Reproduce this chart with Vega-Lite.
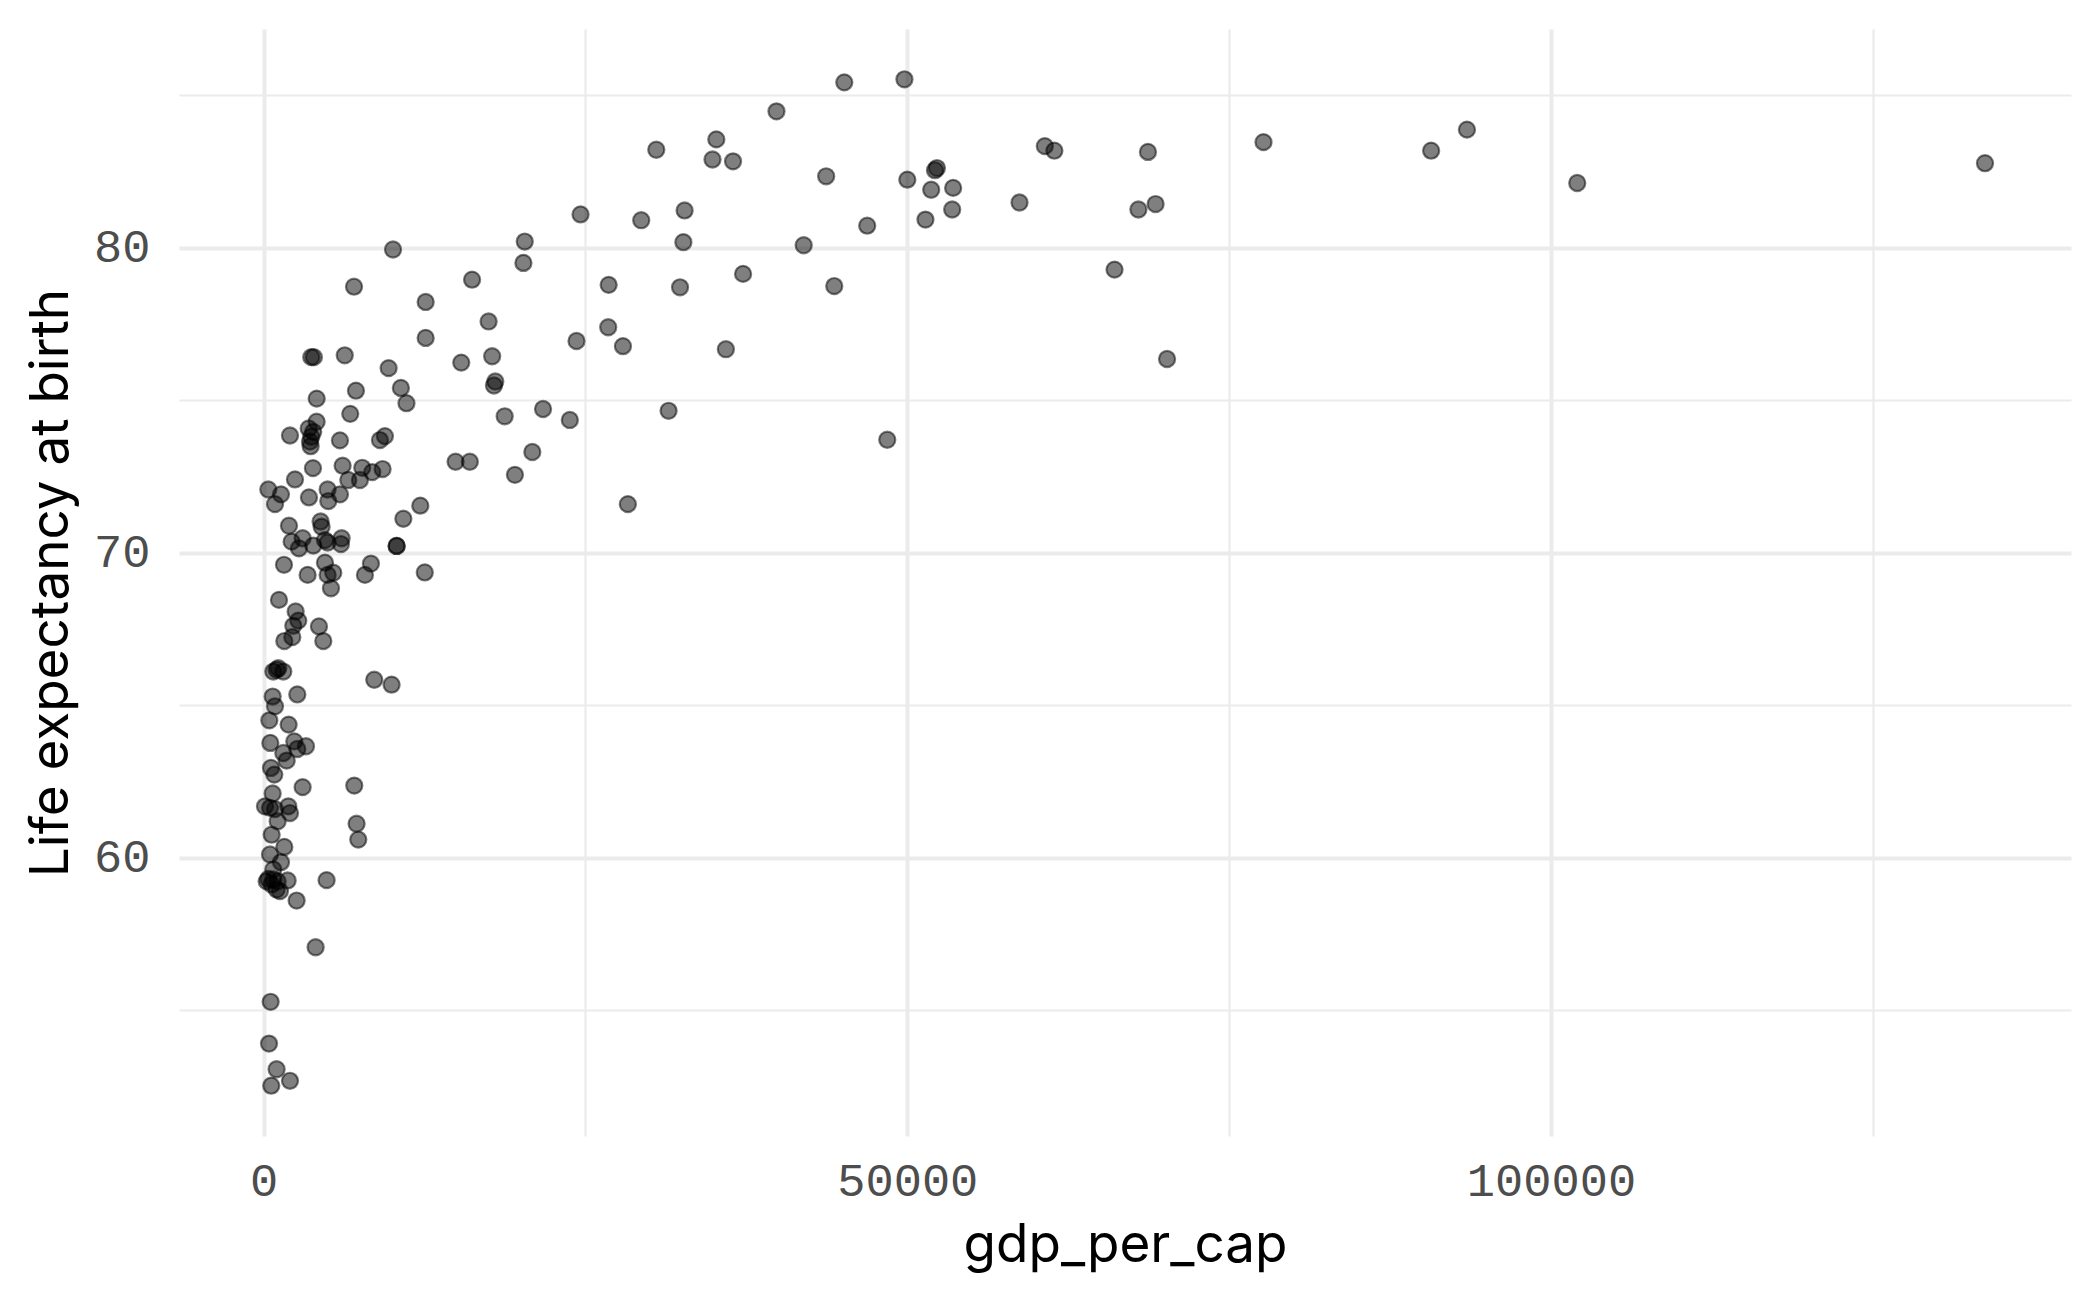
{
  "$schema": "https://vega.github.io/schema/vega-lite/v6.json",
  "width": 1892,
  "height": 1107,
  "autosize": {"type": "none"},
  "padding": {"left": 179, "top": 29, "right": 29, "bottom": 161},
  "background": "white",
  "config": {
    "view": {"stroke": null},
    "axis": {
      "domain": false,
      "ticks": false,
      "gridColor": "#EBEBEB",
      "labelFont": "Liberation Mono",
      "labelFontSize": 47,
      "labelColor": "#4D4D4D",
      "titleFont": "Inter",
      "titleFontSize": 53,
      "titleFontWeight": "normal",
      "titleColor": "#000000"
    }
  },
  "data": {
    "values": [
      {"gdp_per_cap": 133715, "life_exp": 82.77},
      {"gdp_per_cap": 102040, "life_exp": 82.12},
      {"gdp_per_cap": 93472, "life_exp": 83.87},
      {"gdp_per_cap": 90690, "life_exp": 83.18},
      {"gdp_per_cap": 45104, "life_exp": 85.42},
      {"gdp_per_cap": 49777, "life_exp": 85.52},
      {"gdp_per_cap": 39837, "life_exp": 84.47},
      {"gdp_per_cap": 35164, "life_exp": 83.55},
      {"gdp_per_cap": 30500, "life_exp": 83.21},
      {"gdp_per_cap": 34867, "life_exp": 82.89},
      {"gdp_per_cap": 36462, "life_exp": 82.83},
      {"gdp_per_cap": 43695, "life_exp": 82.34},
      {"gdp_per_cap": 50000, "life_exp": 82.23},
      {"gdp_per_cap": 52300, "life_exp": 82.61},
      {"gdp_per_cap": 52150, "life_exp": 82.54},
      {"gdp_per_cap": 51855, "life_exp": 81.9},
      {"gdp_per_cap": 53560, "life_exp": 81.96},
      {"gdp_per_cap": 53486, "life_exp": 81.25},
      {"gdp_per_cap": 51410, "life_exp": 80.92},
      {"gdp_per_cap": 58716, "life_exp": 81.48},
      {"gdp_per_cap": 60682, "life_exp": 83.33},
      {"gdp_per_cap": 61424, "life_exp": 83.18},
      {"gdp_per_cap": 68693, "life_exp": 83.14},
      {"gdp_per_cap": 67951, "life_exp": 81.25},
      {"gdp_per_cap": 69287, "life_exp": 81.43},
      {"gdp_per_cap": 77669, "life_exp": 83.46},
      {"gdp_per_cap": 66097, "life_exp": 79.28},
      {"gdp_per_cap": 70177, "life_exp": 76.35},
      {"gdp_per_cap": 32700, "life_exp": 81.22},
      {"gdp_per_cap": 32605, "life_exp": 80.18},
      {"gdp_per_cap": 46884, "life_exp": 80.72},
      {"gdp_per_cap": 41951, "life_exp": 80.08},
      {"gdp_per_cap": 32345, "life_exp": 78.7},
      {"gdp_per_cap": 37241, "life_exp": 79.14},
      {"gdp_per_cap": 44325, "life_exp": 78.74},
      {"gdp_per_cap": 35906, "life_exp": 76.67},
      {"gdp_per_cap": 31455, "life_exp": 74.65},
      {"gdp_per_cap": 48442, "life_exp": 73.7},
      {"gdp_per_cap": 24616, "life_exp": 81.09},
      {"gdp_per_cap": 29331, "life_exp": 80.9},
      {"gdp_per_cap": 28291, "life_exp": 71.59},
      {"gdp_per_cap": 20282, "life_exp": 80.2},
      {"gdp_per_cap": 20178, "life_exp": 79.5},
      {"gdp_per_cap": 10050, "life_exp": 79.94},
      {"gdp_per_cap": 7020, "life_exp": 78.72},
      {"gdp_per_cap": 16191, "life_exp": 78.95},
      {"gdp_per_cap": 26800, "life_exp": 78.78},
      {"gdp_per_cap": 12585, "life_exp": 78.22},
      {"gdp_per_cap": 17474, "life_exp": 77.58},
      {"gdp_per_cap": 26765, "life_exp": 77.39},
      {"gdp_per_cap": 12585, "life_exp": 77.04},
      {"gdp_per_cap": 24304, "life_exp": 76.94},
      {"gdp_per_cap": 27910, "life_exp": 76.77},
      {"gdp_per_cap": 17751, "life_exp": 76.44},
      {"gdp_per_cap": 15350, "life_exp": 76.23},
      {"gdp_per_cap": 3700, "life_exp": 76.41},
      {"gdp_per_cap": 3900, "life_exp": 76.41},
      {"gdp_per_cap": 6300, "life_exp": 76.47},
      {"gdp_per_cap": 9708, "life_exp": 76.05},
      {"gdp_per_cap": 7170, "life_exp": 75.31},
      {"gdp_per_cap": 10660, "life_exp": 75.4},
      {"gdp_per_cap": 4120, "life_exp": 75.05},
      {"gdp_per_cap": 17994, "life_exp": 75.61},
      {"gdp_per_cap": 17890, "life_exp": 75.48},
      {"gdp_per_cap": 11094, "life_exp": 74.9},
      {"gdp_per_cap": 6726, "life_exp": 74.55},
      {"gdp_per_cap": 21703, "life_exp": 74.71},
      {"gdp_per_cap": 18722, "life_exp": 74.47},
      {"gdp_per_cap": 23784, "life_exp": 74.35},
      {"gdp_per_cap": 20871, "life_exp": 73.3},
      {"gdp_per_cap": 14908, "life_exp": 72.98},
      {"gdp_per_cap": 16017, "life_exp": 72.98},
      {"gdp_per_cap": 19519, "life_exp": 72.55},
      {"gdp_per_cap": 12169, "life_exp": 71.54},
      {"gdp_per_cap": 10852, "life_exp": 71.11},
      {"gdp_per_cap": 10331, "life_exp": 70.22},
      {"gdp_per_cap": 10331, "life_exp": 70.22},
      {"gdp_per_cap": 12516, "life_exp": 69.35},
      {"gdp_per_cap": 4115, "life_exp": 74.29},
      {"gdp_per_cap": 3500, "life_exp": 74.07},
      {"gdp_per_cap": 3850, "life_exp": 73.96},
      {"gdp_per_cap": 3700, "life_exp": 73.8},
      {"gdp_per_cap": 3600, "life_exp": 73.64},
      {"gdp_per_cap": 3650, "life_exp": 73.49},
      {"gdp_per_cap": 2045, "life_exp": 73.84},
      {"gdp_per_cap": 5927, "life_exp": 73.68},
      {"gdp_per_cap": 9032, "life_exp": 73.69},
      {"gdp_per_cap": 9420, "life_exp": 73.82},
      {"gdp_per_cap": 3830, "life_exp": 72.77},
      {"gdp_per_cap": 6134, "life_exp": 72.85},
      {"gdp_per_cap": 7660, "life_exp": 72.78},
      {"gdp_per_cap": 8437, "life_exp": 72.64},
      {"gdp_per_cap": 9239, "life_exp": 72.74},
      {"gdp_per_cap": 2433, "life_exp": 72.4},
      {"gdp_per_cap": 6574, "life_exp": 72.38},
      {"gdp_per_cap": 7479, "life_exp": 72.38},
      {"gdp_per_cap": 362, "life_exp": 72.07},
      {"gdp_per_cap": 1346, "life_exp": 71.91},
      {"gdp_per_cap": 880, "life_exp": 71.59},
      {"gdp_per_cap": 3520, "life_exp": 71.81},
      {"gdp_per_cap": 4969, "life_exp": 72.07},
      {"gdp_per_cap": 5021, "life_exp": 71.69},
      {"gdp_per_cap": 5927, "life_exp": 71.91},
      {"gdp_per_cap": 1967, "life_exp": 70.88},
      {"gdp_per_cap": 4425, "life_exp": 71.02},
      {"gdp_per_cap": 4503, "life_exp": 70.85},
      {"gdp_per_cap": 3028, "life_exp": 70.47},
      {"gdp_per_cap": 2174, "life_exp": 70.36},
      {"gdp_per_cap": 2743, "life_exp": 70.14},
      {"gdp_per_cap": 3856, "life_exp": 70.23},
      {"gdp_per_cap": 4762, "life_exp": 70.41},
      {"gdp_per_cap": 4969, "life_exp": 70.33},
      {"gdp_per_cap": 6056, "life_exp": 70.47},
      {"gdp_per_cap": 6004, "life_exp": 70.28},
      {"gdp_per_cap": 1579, "life_exp": 69.6},
      {"gdp_per_cap": 3416, "life_exp": 69.27},
      {"gdp_per_cap": 4762, "life_exp": 69.67},
      {"gdp_per_cap": 4969, "life_exp": 69.27},
      {"gdp_per_cap": 5409, "life_exp": 69.34},
      {"gdp_per_cap": 5228, "life_exp": 68.83},
      {"gdp_per_cap": 7867, "life_exp": 69.27},
      {"gdp_per_cap": 8333, "life_exp": 69.64},
      {"gdp_per_cap": 1190, "life_exp": 68.45},
      {"gdp_per_cap": 2484, "life_exp": 68.07},
      {"gdp_per_cap": 2692, "life_exp": 67.77},
      {"gdp_per_cap": 2303, "life_exp": 67.6},
      {"gdp_per_cap": 4296, "life_exp": 67.58},
      {"gdp_per_cap": 1605, "life_exp": 67.1},
      {"gdp_per_cap": 2226, "life_exp": 67.23},
      {"gdp_per_cap": 4633, "life_exp": 67.1},
      {"gdp_per_cap": 1139, "life_exp": 66.21},
      {"gdp_per_cap": 750, "life_exp": 66.1},
      {"gdp_per_cap": 1527, "life_exp": 66.1},
      {"gdp_per_cap": 1009, "life_exp": 66.16},
      {"gdp_per_cap": 8592, "life_exp": 65.83},
      {"gdp_per_cap": 9938, "life_exp": 65.67},
      {"gdp_per_cap": 699, "life_exp": 65.28},
      {"gdp_per_cap": 2614, "life_exp": 65.35},
      {"gdp_per_cap": 880, "life_exp": 64.96},
      {"gdp_per_cap": 440, "life_exp": 64.5},
      {"gdp_per_cap": 1941, "life_exp": 64.36},
      {"gdp_per_cap": 518, "life_exp": 63.76},
      {"gdp_per_cap": 2381, "life_exp": 63.81},
      {"gdp_per_cap": 3287, "life_exp": 63.65},
      {"gdp_per_cap": 1527, "life_exp": 63.43},
      {"gdp_per_cap": 2614, "life_exp": 63.56},
      {"gdp_per_cap": 1786, "life_exp": 63.18},
      {"gdp_per_cap": 569, "life_exp": 62.94},
      {"gdp_per_cap": 828, "life_exp": 62.72},
      {"gdp_per_cap": 3028, "life_exp": 62.31},
      {"gdp_per_cap": 7039, "life_exp": 62.36},
      {"gdp_per_cap": 699, "life_exp": 62.1},
      {"gdp_per_cap": 104, "life_exp": 61.68},
      {"gdp_per_cap": 492, "life_exp": 61.63},
      {"gdp_per_cap": 880, "life_exp": 61.59},
      {"gdp_per_cap": 1915, "life_exp": 61.68},
      {"gdp_per_cap": 2045, "life_exp": 61.46},
      {"gdp_per_cap": 1087, "life_exp": 61.19},
      {"gdp_per_cap": 7220, "life_exp": 61.11},
      {"gdp_per_cap": 7350, "life_exp": 60.59},
      {"gdp_per_cap": 621, "life_exp": 60.75},
      {"gdp_per_cap": 1605, "life_exp": 60.35},
      {"gdp_per_cap": 492, "life_exp": 60.1},
      {"gdp_per_cap": 1346, "life_exp": 59.85},
      {"gdp_per_cap": 750, "life_exp": 59.61},
      {"gdp_per_cap": 362, "life_exp": 59.3},
      {"gdp_per_cap": 750, "life_exp": 59.28},
      {"gdp_per_cap": 1087, "life_exp": 59.22},
      {"gdp_per_cap": 621, "life_exp": 59.12},
      {"gdp_per_cap": 1009, "life_exp": 58.95},
      {"gdp_per_cap": 1268, "life_exp": 58.9},
      {"gdp_per_cap": 233, "life_exp": 59.22},
      {"gdp_per_cap": 1863, "life_exp": 59.25},
      {"gdp_per_cap": 4891, "life_exp": 59.26},
      {"gdp_per_cap": 2562, "life_exp": 58.59},
      {"gdp_per_cap": 4037, "life_exp": 57.06},
      {"gdp_per_cap": 543, "life_exp": 55.27},
      {"gdp_per_cap": 416, "life_exp": 53.9},
      {"gdp_per_cap": 1005, "life_exp": 53.06},
      {"gdp_per_cap": 2046, "life_exp": 52.68},
      {"gdp_per_cap": 589, "life_exp": 52.52}
    ]
  },
  "mark": {
    "type": "point",
    "shape": "circle",
    "filled": true,
    "fill": "#000000",
    "fillOpacity": 0.5,
    "stroke": "#000000",
    "strokeOpacity": 0.5,
    "strokeWidth": 2.2,
    "size": 260
  },
  "encoding": {
    "x": {
      "field": "gdp_per_cap",
      "type": "quantitative",
      "title": "gdp_per_cap",
      "scale": {"domain": [-6576, 140396], "nice": false, "zero": false},
      "axis": {
        "values": [0, 25000, 50000, 75000, 100000, 125000],
        "format": "d",
        "labelExpr": "datum.value % 50000 === 0 ? datum.label : ''",
        "gridWidth": {"condition": {"test": "datum.value % 50000 === 0", "value": 4}, "value": 2.2},
        "labelPadding": 22,
        "labelFlush": false,
        "labelOverlap": false,
        "titlePadding": 15
      }
    },
    "y": {
      "field": "life_exp",
      "type": "quantitative",
      "title": "Life expectancy at birth",
      "scale": {"domain": [50.87, 87.17], "nice": false, "zero": false},
      "axis": {
        "values": [55, 60, 65, 70, 75, 80, 85],
        "format": "d",
        "labelExpr": "datum.value % 10 === 0 ? datum.label : ''",
        "gridWidth": {"condition": {"test": "datum.value % 10 === 0", "value": 4}, "value": 2.2},
        "labelPadding": 29,
        "labelOverlap": false,
        "titlePadding": 15
      }
    }
  }
}
